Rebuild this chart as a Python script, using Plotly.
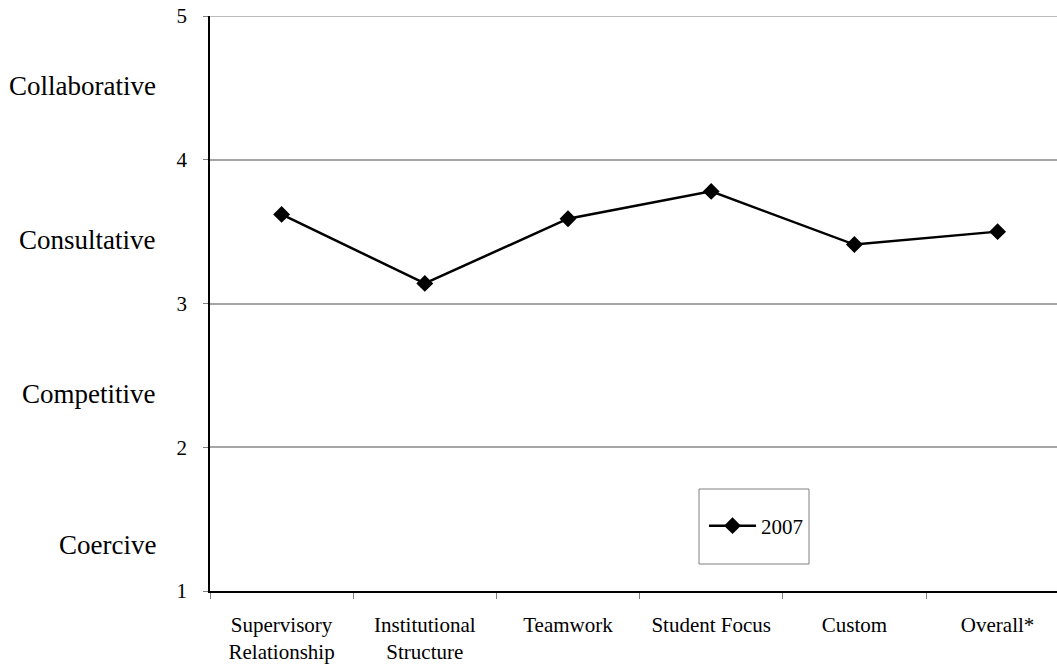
import plotly.graph_objects as go

# Category scores for the 2007 survey
categories = ["Supervisory<br>Relationship", "Institutional<br>Structure", "Teamwork",
              "Student Focus", "Custom", "Overall*"]
scores_2007 = [3.62, 3.14, 3.59, 3.78, 3.41, 3.50]

# Descriptive bands printed to the left of the value axis
band_labels = ["Collaborative", "Consultative", "Competitive", "Coercive"]
band_positions = [4.51, 3.44, 2.37, 1.32]

y_ticks = [1, 2, 3, 4, 5]

FONT = "Liberation Serif, Times New Roman, serif"

fig = go.Figure()
fig.add_trace(go.Scatter(
    x=categories, y=scores_2007, name="2007", mode="lines+markers",
    line=dict(color="black", width=2.5),
    marker=dict(symbol="diamond", size=13, color="black"),
))

# plot area spans 210..1057 px horizontally, category step ~143 px
plot_w = 1057 - 210
step = 143.2
x_range = [-0.5, -0.5 + plot_w / step]

for label, pos in zip(band_labels, band_positions):
    fig.add_annotation(
        text=label, xref="paper", yref="y", x=(158 - 210) / plot_w, y=pos,
        xanchor="right", yanchor="middle", showarrow=False,
        font=dict(family=FONT, size=27, color="black"),
    )

# top grid line at the upper limit
fig.add_shape(type="line", xref="paper", yref="y", x0=0, x1=1, y0=5, y1=5,
              line=dict(color="#a6a6a6", width=1.5))

# legend frame
fig.add_shape(type="rect", xref="paper", yref="paper",
              x0=(699 - 210) / plot_w, x1=(809 - 210) / plot_w,
              y0=(591 - 564) / 575, y1=(591 - 489) / 575,
              line=dict(color="#808080", width=1), fillcolor="white", layer="below")

fig.update_layout(
    width=1057, height=664,
    margin=dict(l=210, r=0, t=16, b=73),
    paper_bgcolor="white", plot_bgcolor="white",
    font=dict(family=FONT, size=21, color="black"),
    showlegend=True,
    legend=dict(x=(704 - 210) / plot_w, y=(591 - 526) / 575, xanchor="left", yanchor="middle",
                bgcolor="rgba(0,0,0,0)", borderwidth=0,
                font=dict(family=FONT, size=21, color="black"),
                itemwidth=47),
    xaxis=dict(type="category", range=x_range, showgrid=False,
               showline=True, linecolor="black", linewidth=1.5,
               ticks="outside", tickson="boundaries", ticklen=6, tickcolor="#808080",
               ticklabelstandoff=14,
               tickfont=dict(family=FONT, size=21, color="black")),
    yaxis=dict(range=[1, 5], tickvals=y_ticks, showgrid=True, gridcolor="#a6a6a6", gridwidth=1.5,
               showline=True, linecolor="black", linewidth=1.5, zeroline=False,
               ticks="outside", ticklen=5, tickcolor="#808080",
               ticklabelstandoff=12,
               tickfont=dict(family=FONT, size=21, color="black")),
)

fig.write_html("out.html")
